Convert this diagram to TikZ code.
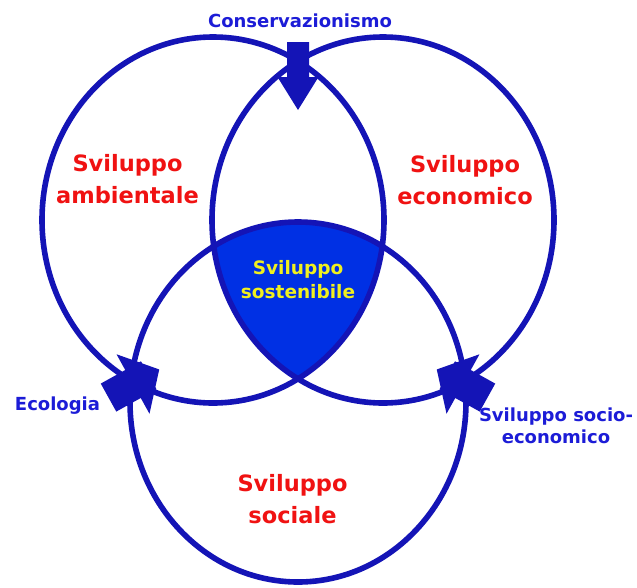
\documentclass[tikz,border=0pt]{standalone}
\usepackage{fontspec}
\setmainfont{DejaVu Sans}
\definecolor{ringblue}{RGB}{20,20,182}
\definecolor{coreblue}{RGB}{0,48,228}
\definecolor{labelblue}{RGB}{28,28,215}
\definecolor{labelred}{RGB}{240,18,18}
\definecolor{labelyellow}{RGB}{240,240,30}
\begin{document}
\begin{tikzpicture}[x=1pt,y=-1pt,
  ring/.style={draw=ringblue, line width=5.6pt},
  arrowfill/.style={fill=ringblue, draw=none},
  redlabel/.style={text=labelred, font=\bfseries\fontsize{22.5}{32}\selectfont, align=center, inner sep=0pt},
  yellowlabel/.style={text=labelyellow, font=\bfseries\fontsize{18.5}{24}\selectfont, align=center, inner sep=0pt},
  bluelabel/.style={text=labelblue, font=\bfseries\fontsize{18}{22.5}\selectfont, align=center, inner sep=0pt}]
\useasboundingbox (0,0) rectangle (637,587);
\fill[white] (0,0) rectangle (637,587);
% centre region
\begin{scope}
  \clip (213,220) ellipse [x radius=171pt, y radius=183pt];
  \clip (383,220) ellipse [x radius=171pt, y radius=183pt];
  \fill[coreblue] (298,402) ellipse [x radius=168pt, y radius=180pt];
\end{scope}
% rings
\draw[ring] (213,220) ellipse [x radius=171pt, y radius=183pt];
\draw[ring] (383,220) ellipse [x radius=171pt, y radius=183pt];
\draw[ring] (298,402) ellipse [x radius=168pt, y radius=180pt];
% top arrow
\begin{scope}[shift={(298,77)}, rotate=-90]
  \fill[arrowfill] (-35,-11) -- (0,-11) -- (0,-20.5) -- (33,0) -- (0,20.5) -- (0,11) -- (-35,11) -- cycle;
\end{scope}
% lower-left arrow
\begin{scope}[shift={(133,384)}, rotate=29]
  \fill[arrowfill] (-28,-16) rectangle (18,16);
  \fill[arrowfill] (0,-34) -- (30,0) -- (0,34) -- cycle;
\end{scope}
% lower-right arrow
\begin{scope}[shift={(463,384)}, rotate=151]
  \fill[arrowfill] (-28,-16) rectangle (18,16);
  \fill[arrowfill] (0,-34) -- (30,0) -- (0,34) -- cycle;
\end{scope}
% labels
\node[bluelabel, anchor=base] (cons) at (300,27.5) {Conservazionismo};
\node[bluelabel, anchor=base] (eco) at (57.5,410.5) {Ecologia};
\node[bluelabel] (socioeco) at (556,426) {Sviluppo socio-\\economico};
\node[redlabel] (amb) at (127.5,179) {Sviluppo\\ambientale};
\node[redlabel] (econ) at (465,180.5) {Sviluppo\\economico};
\node[redlabel] (soc) at (292.5,499) {Sviluppo\\sociale};
\node[yellowlabel] (sost) at (298,280) {Sviluppo\\sostenibile};
\end{tikzpicture}
\end{document}
